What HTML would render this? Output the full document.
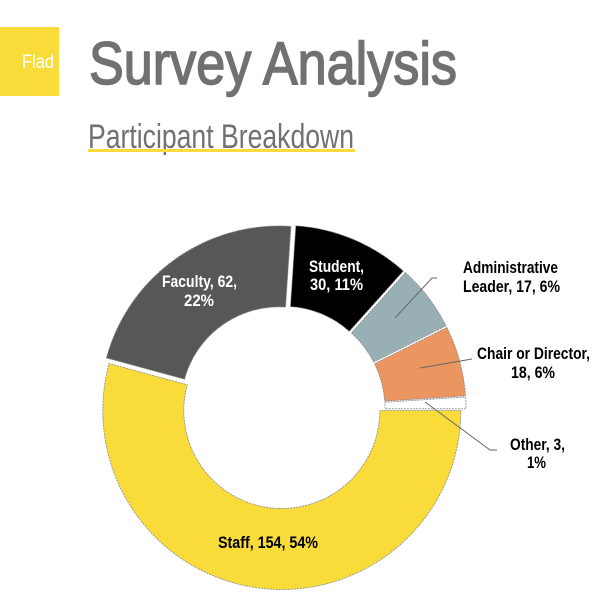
<!DOCTYPE html>
<html><head><meta charset="utf-8"><style>
html,body{margin:0;padding:0;background:#fff;width:600px;height:600px;overflow:hidden}
text{font-family:"Liberation Sans",Arial,sans-serif}
.l{font-weight:bold;font-size:16.5px}
</style></head><body>
<svg id="s" width="600" height="600" viewBox="0 0 600 600" xmlns="http://www.w3.org/2000/svg">
<rect x="0" y="27" width="59" height="69" fill="#F9DC3A"/>
<text x="22" y="68" font-size="19" fill="#fff" textLength="32" lengthAdjust="spacingAndGlyphs">Flad</text>
<text x="89" y="84" font-size="60" fill="#707170" stroke="#707170" stroke-width="1.6" textLength="368" lengthAdjust="spacingAndGlyphs">Survey Analysis</text>
<text x="88" y="148" font-size="34" fill="#707170" textLength="266" lengthAdjust="spacingAndGlyphs">Participant Breakdown</text>
<rect x="88" y="149" width="267" height="3" fill="#F9DC3A"/>
<g id="pie"></g>
<g stroke="#666" stroke-width="1" fill="none">
<polyline points="395,318 432,278 437,278"/>
<polyline points="420,368 472,359"/>
<polyline points="425,402 490,450 497,450"/>
</g>
<text class="l" x="162" y="287" fill="#fff" textLength="75" lengthAdjust="spacingAndGlyphs">Faculty, 62,</text>
<text class="l" x="184" y="306" fill="#fff" textLength="30" lengthAdjust="spacingAndGlyphs">22%</text>
<text class="l" x="309" y="272" fill="#fff" textLength="55" lengthAdjust="spacingAndGlyphs">Student,</text>
<text class="l" x="310" y="290" fill="#fff" textLength="53" lengthAdjust="spacingAndGlyphs">30, 11%</text>
<text class="l" x="218" y="548" fill="#000" textLength="100" lengthAdjust="spacingAndGlyphs">Staff, 154, 54%</text>
<text class="l" x="463" y="273" fill="#000" textLength="95" lengthAdjust="spacingAndGlyphs">Administrative</text>
<text class="l" x="463" y="292" fill="#000" textLength="97" lengthAdjust="spacingAndGlyphs">Leader, 17, 6%</text>
<text class="l" x="477" y="359" fill="#000" textLength="113" lengthAdjust="spacingAndGlyphs">Chair or Director,</text>
<text class="l" x="511" y="378" fill="#000" textLength="44" lengthAdjust="spacingAndGlyphs">18, 6%</text>
<text class="l" x="510" y="450" fill="#000" textLength="55" lengthAdjust="spacingAndGlyphs">Other, 3,</text>
<text class="l" x="527" y="468" fill="#000" textLength="19" lengthAdjust="spacingAndGlyphs">1%</text>
</svg>
<script>
var cx=282,cy=409,ro=179,ri=98;
var d=[[154,"#F9DC3A",1.5],[62,"#575856",5],[30,"#000000",5],[17,"#98AFB5",5],[18,"#EB9560",5],[3,"#ffffff",5]];
var tot=284,a=0,h="";
function p(x,y,r,t){return [x+r*Math.cos(t),y+r*Math.sin(t)];}
d.forEach(function(s){
 var a0=a,a1=a+s[0]/tot*2*Math.PI;a=a1;
 var m=(a0+a1)/2,x=cx+s[2]*Math.cos(m),y=cy+s[2]*Math.sin(m);
 var L=(a1-a0)>Math.PI?1:0;
 var A=p(x,y,ro,a0),B=p(x,y,ro,a1),C=p(x,y,ri,a1),D=p(x,y,ri,a0);
 h+='<path d="M'+A+' A'+ro+','+ro+' 0 '+L+' 1 '+B+' L'+C+' A'+ri+','+ri+' 0 '+L+' 0 '+D+' Z" fill="'+s[1]+'" stroke="#888" stroke-width="0.8" stroke-dasharray="2,1"/>';
});
document.getElementById("pie").innerHTML=h;
</script>
</body></html>
